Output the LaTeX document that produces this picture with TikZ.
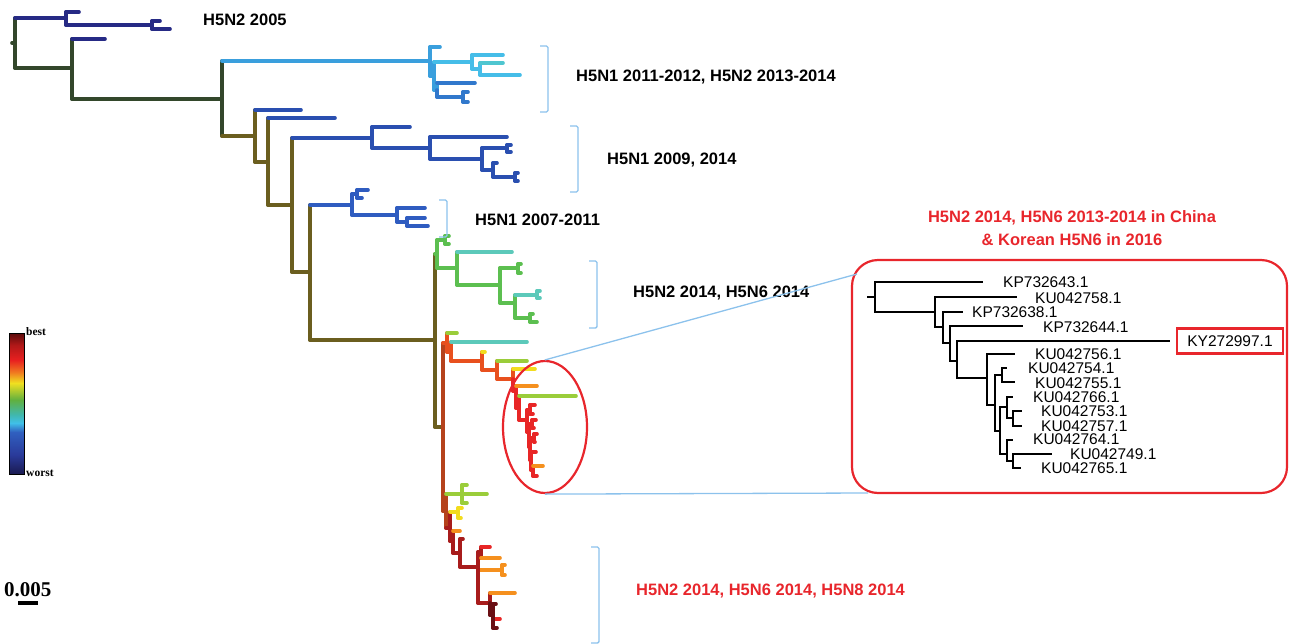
\documentclass[tikz,border=0pt]{standalone}
\usepackage{fontspec}
\setmainfont{Liberation Sans}
\newfontfamily\legfont{Liberation Serif}
\usetikzlibrary{shapes.geometric,positioning}

\definecolor{dkgreen}{HTML}{33472B}
\definecolor{navyb}{HTML}{262A85}
\definecolor{olivey}{HTML}{6B5E1F}
\definecolor{skyb}{HTML}{3A9FDD}
\definecolor{cyanb}{HTML}{45BDE8}
\definecolor{tealb}{HTML}{4FC6D0}
\definecolor{midblue}{HTML}{3178CC}
\definecolor{blueb}{HTML}{2A4FB0}
\definecolor{bluec}{HTML}{2F5CC0}
\definecolor{greenb}{HTML}{5CBF50}
\definecolor{tealg}{HTML}{5CC9BA}
\definecolor{ylgreen}{HTML}{9ACD3A}
\definecolor{yellowb}{HTML}{F2DC1E}
\definecolor{orangeb}{HTML}{F5901E}
\definecolor{orred}{HTML}{E8501E}
\definecolor{redb}{HTML}{E82626}
\definecolor{rustb}{HTML}{B5421C}
\definecolor{dkredb}{HTML}{A81C1C}
\definecolor{maroonb}{HTML}{6A0F14}
\definecolor{hired}{HTML}{E8262C}
\definecolor{braceblue}{HTML}{8CC2EC}
% legend bar stops
\definecolor{lga}{HTML}{5A0C0C}
\definecolor{lgb}{HTML}{B01818}
\definecolor{lgc}{HTML}{E82020}
\definecolor{lgd}{HTML}{F07820}
\definecolor{lge}{HTML}{F0E020}
\definecolor{lgf}{HTML}{60B040}
\definecolor{lgg}{HTML}{40B8B0}
\definecolor{lgh}{HTML}{40C0E8}
\definecolor{lgi}{HTML}{3060C0}
\definecolor{lgj}{HTML}{2A3A9A}
\definecolor{lgk}{HTML}{1A1A50}

\begin{document}
\begin{tikzpicture}[
        x=1pt,
        y=-1pt,
        branch/.style={line width=3.6pt, line cap=round},
        twig/.style={line width=2.8pt, black},
        clade/.style={font=\fontsize{16.5}{23}\selectfont\bfseries, anchor=west, inner sep=0pt},
        hilite/.style={clade, text=hired},
        seqid/.style={font=\fontsize{15.5}{16}\selectfont, anchor=west, inner sep=0pt},
        legtext/.style={font=\legfont\bfseries\fontsize{11.5}{13}\selectfont, anchor=west, inner sep=0pt},
        brace/.style={line width=1.4pt, braceblue, rounded corners=1.5pt},
        zoomline/.style={line width=1.3pt, braceblue},
        cluster/.style={draw=hired, line width=2.2pt, ellipse, minimum width=84pt, minimum height=132pt, inner sep=0pt},
        insetbox/.style={draw=hired, line width=2.2pt, rounded corners=26pt, minimum width=435pt, minimum height=233pt, inner sep=0pt}
    ]
        \useasboundingbox (0,0) rectangle (1291,643);

        % main tree
        \foreach \n/\px/\py in {
            r0/12/43, n0/15/43, n1/66/18, l1/79/12, n2/152/25, l2/160/21, l3/170/29,
            n3/72/68, l4/105/39, n4/222/99, n5/255/136, l5/301/110, n6/268/162, l6/335/118,
            n7/292/205, n8/310/272, n9/435/340, n10/443/427,
            c1/430/61, c1a/440/47, c2/434/76, c3/472/62, c3a/503/55, c5/480/69, c5a/503/63, c5b/520/75,
            c4/437/90, c4a/475/83, c6/463/97, c6a/468/92, c6b/468/102,
            b1/372/138, b1a/410/127, b3/430/148, b3a/507/137, b4/482/159, b5/507/148, b5a/511/145, b5b/511/152,
            b6/493/170, b6a/497/163, b7/515/177, b7a/518/173, b7b/518/181,
            b2/352/205, b8/357/194, b8a/368/190, b8b/362/198, b9/397/215, b9a/425/208, b10/407/222, b10a/425/218, b10b/428/226,
            g1/437/254, g2/445/240, g2a/449/236, g2b/449/244, g3/457/268, g3a/512/252, g4/500/285,
            g5/518/268, g5a/521/264, g5b/521/273, g6/515/303, g7/537/295, g7a/540/291, g7b/540/298,
            g8/530/318, g8a/533/314, g8b/537/322,
            p1/447/343, p1a/457/333, p2/451/352, p2a/527/342, p3/482/361, p3a/485/352, p4/497/370, p4a/527/361,
            p5/513/379, p5a/535/369, p6/516/391, p6a/537/386, p7/519/408, p7a/576/396, p8/527/420,
            p9/530/410, p9a/535/405, p9b/533/414, p10/529/432, p11/532/424, p11a/536/420, p11b/534/428,
            p12/530/447, p13/534/438, p13a/537/434, p13b/535/442, p14/531/460, p14a/536/452,
            p15/533/470, p15a/543/466, p15b/537/476,
            q1/446/511, qg/462/494, qga/467/485, qgb/487/494, qgc/467/503, q2/450/528, qy/458/512, qya/462/508, qyb/461/518,
            q3/453/541, q3a/460/531, q4/460/553, q4a/463/539, q5/478/567, m1/481/552, m1a/490/547, m1b/500/558,
            m2/502/570, m2a/505/565, m2b/505/575, q6/490/603, q6a/515/593, q7/493/615, q7a/496/604, q7b/500/619, q7c/497/628}
            \coordinate (\n) at (\px,\py);

        \draw[branch, dkgreen] (r0) -- (n0);
        \foreach \a/\b/\cv/\ch in {
            n0/n1/dkgreen/navyb, n0/n3/dkgreen/dkgreen,
            n1/l1/navyb/navyb, n1/n2/navyb/navyb, n2/l2/navyb/navyb, n2/l3/navyb/navyb,
            n3/l4/dkgreen/navyb, n3/n4/dkgreen/dkgreen,
            n4/c1/dkgreen/skyb, n4/n5/dkgreen/olivey,
            n5/l5/olivey/blueb, n5/n6/olivey/olivey,
            n6/l6/olivey/blueb, n6/n7/olivey/olivey,
            n7/b1/olivey/blueb, n7/n8/olivey/olivey,
            n8/b2/olivey/bluec, n8/n9/olivey/olivey,
            n9/g1/olivey/greenb, n9/n10/olivey/olivey,
            n10/p1/rustb/orred, n10/q1/rustb/rustb,
            c1/c1a/skyb/skyb, c1/c2/skyb/skyb, c2/c3/skyb/cyanb, c2/c4/skyb/skyb,
            c3/c3a/cyanb/cyanb, c3/c5/cyanb/cyanb, c5/c5a/cyanb/tealb, c5/c5b/cyanb/cyanb,
            c4/c4a/skyb/midblue, c4/c6/midblue/midblue, c6/c6a/midblue/midblue, c6/c6b/midblue/midblue,
            b1/b1a/blueb/blueb, b1/b3/blueb/blueb, b3/b3a/blueb/blueb, b3/b4/blueb/blueb,
            b4/b5/blueb/blueb, b5/b5a/blueb/blueb, b5/b5b/blueb/blueb, b4/b6/blueb/blueb,
            b6/b6a/blueb/blueb, b6/b7/blueb/blueb, b7/b7a/blueb/blueb, b7/b7b/blueb/blueb,
            b2/b8/bluec/bluec, b8/b8a/bluec/bluec, b8/b8b/bluec/bluec, b2/b9/bluec/bluec,
            b9/b9a/bluec/bluec, b9/b10/bluec/bluec, b10/b10a/bluec/bluec, b10/b10b/bluec/bluec,
            g1/g2/greenb/greenb, g2/g2a/greenb/greenb, g2/g2b/greenb/greenb, g1/g3/greenb/greenb,
            g3/g3a/greenb/tealg, g3/g4/greenb/greenb, g4/g5/greenb/greenb, g5/g5a/greenb/greenb,
            g5/g5b/greenb/greenb, g4/g6/greenb/greenb, g6/g7/greenb/tealg, g7/g7a/tealg/tealg,
            g7/g7b/tealg/tealg, g6/g8/greenb/greenb, g8/g8a/greenb/greenb, g8/g8b/greenb/greenb,
            p1/p1a/orred/ylgreen, p1/p2/orred/orred, p2/p2a/orred/tealg, p2/p3/orred/orred,
            p3/p3a/orred/yellowb, p3/p4/orred/orred, p4/p4a/orred/ylgreen, p4/p5/orred/orred,
            p5/p5a/orred/yellowb, p5/p6/redb/redb, p6/p6a/redb/orangeb, p6/p7/redb/redb,
            p7/p7a/redb/ylgreen, p7/p8/redb/redb, p8/p9/redb/redb, p9/p9a/redb/redb, p9/p9b/redb/redb,
            p8/p10/redb/redb, p10/p11/redb/redb, p11/p11a/redb/redb, p11/p11b/redb/redb, p10/p12/redb/redb,
            p12/p13/redb/redb, p13/p13a/redb/redb, p13/p13b/redb/redb, p12/p14/redb/redb,
            p14/p14a/redb/redb, p14/p15/redb/redb, p15/p15a/redb/orangeb, p15/p15b/redb/redb,
            q1/qg/rustb/ylgreen, q1/q2/rustb/dkredb, qg/qga/ylgreen/ylgreen, qg/qgb/ylgreen/ylgreen,
            qg/qgc/ylgreen/ylgreen, q2/qy/dkredb/yellowb, qy/qya/yellowb/yellowb, qy/qyb/yellowb/yellowb,
            q2/q3/dkredb/dkredb, q3/q3a/dkredb/orangeb, q3/q4/dkredb/dkredb, q4/q4a/dkredb/dkredb,
            q4/q5/dkredb/dkredb, q5/m1/dkredb/dkredb, m1/m1a/dkredb/redb, m1/m1b/dkredb/orangeb,
            q5/m2/dkredb/orangeb, m2/m2a/orangeb/orangeb, m2/m2b/orangeb/orangeb, q5/q6/dkredb/dkredb,
            q6/q6a/dkredb/orangeb, q6/q7/maroonb/maroonb, q7/q7a/maroonb/maroonb, q7/q7b/maroonb/redb,
            q7/q7c/maroonb/maroonb} {
            \draw[branch, \cv] (\a) -- (\a |- \b);
            \draw[branch, \ch] (\a |- \b) -- (\b);
        }

        % clade brackets and labels
        \foreach \bx/\bt/\bb in {548/46/112, 578/126/192, 447/200/237, 597/261/328, 599/547/643}
            \draw[brace] (\bx-8,\bt) -- (\bx,\bt) -- (\bx,\bb) -- (\bx-8,\bb);

        \node[clade] (h5n2old) at (203,20) {H5N2 2005};
        \node[clade] (h5n1mix) at (576,77) {H5N1 2011-2012, H5N2 2013-2014};
        \node[clade] (h5n1late) at (607,160) {H5N1 2009, 2014};
        \node[clade] (h5n1early) at (475,220) {H5N1 2007-2011};
        \node[clade] (h5n6a) at (633,293) {H5N2 2014, H5N6 2014};
        \node[hilite] (h5n8) at (636,591) {H5N2 2014, H5N6 2014, H5N8 2014};
        \node[hilite, anchor=center, align=center] (korea) at (1072,228) {H5N2 2014, H5N6 2013-2014 in China\\\& Korean H5N6 in 2016};

        % zoomed cluster
        \node[cluster] (clu) at (545,427) {};
        \node[insetbox] (inset) at (1069.5,376.5) {};
        \coordinate (zt) at (857,274);
        \coordinate (zb) at (868,493);
        \draw[zoomline] (clu.north) -- (zt);
        \draw[zoomline] (clu.south) -- (zb);

        % inset tree
        \foreach \n/\px/\py in {
            t0/867/297, i0/875/297, i1/935/312, i2/943/327, i3/950/343, i4/957/361, i5/987/378,
            i6/995/405, i7/1002/375, i8/1000/431, i9/1007/407, i10/1007/454, i11/1013/418, i12/1013/461,
            s1/983/282, s2/1017/297, s3/963/312, s4/1023/326, s5/1170/341, s6/1015/354, s7/1007/368,
            s8/1015/382, s9/1013/397, s10/1022/411, s11/1022/426, s12/1013/440, s13/1052/454, s14/1021/468}
            \coordinate (\n) at (\px,\py);
        \draw[twig] (t0) -- (i0);
        \foreach \a/\b in {i0/s1, i0/i1, i1/s2, i1/i2, i2/s3, i2/i3, i3/s4, i3/i4, i4/s5, i4/i5,
            i5/s6, i5/i6, i6/i7, i6/i8, i7/s7, i7/s8, i8/i9, i8/i10, i9/s9, i9/i11, i11/s10, i11/s11,
            i10/s12, i10/i12, i12/s13, i12/s14}
            \draw[twig] (\a) |- (\b);

        \foreach \id/\lx/\ly [count=\k] in {KP732643.1/1003/282, KU042758.1/1035/298, KP732638.1/972/312,
            KP732644.1/1043/327, KU042756.1/1035/354, KU042754.1/1028/368, KU042755.1/1035/383,
            KU042766.1/1033/397, KU042753.1/1041/411, KU042757.1/1041/426, KU042764.1/1033/439,
            KU042749.1/1070/454, KU042765.1/1041/468}
            \node[seqid] (seq\k) at (\lx,\ly) {\id};
        \node[seqid, anchor=center, draw=hired, line width=2.2pt, minimum width=106pt, minimum height=25pt] (kybox) at (1230,341) {KY272997.1};

        % colour legend
        \foreach \ya/\ca/\yb/\cb in {333/lga/345/lgb, 345/lgb/360/lgc, 360/lgc/372/lgd, 372/lgd/383/lge,
            383/lge/400/lgf, 400/lgf/415/lgg, 415/lgg/423/lgh, 423/lgh/432/lgi, 432/lgi/455/lgj, 455/lgj/474/lgk}
            \shade[top color=\ca, bottom color=\cb] (9,\ya) rectangle (24,\yb);
        \draw[line width=0.8pt] (9,333) rectangle (24,474);
        \node[legtext] (best) at (26,332) {best};
        \node[legtext] (worst) at (26,473) {worst};

        % scale bar
        \node[legtext, font=\legfont\bfseries\fontsize{21}{23}\selectfont] (scale) at (4,590) {0.005};
        \draw[line width=4pt] (18,603) -- (38,603);
    \end{tikzpicture}
\end{document}
